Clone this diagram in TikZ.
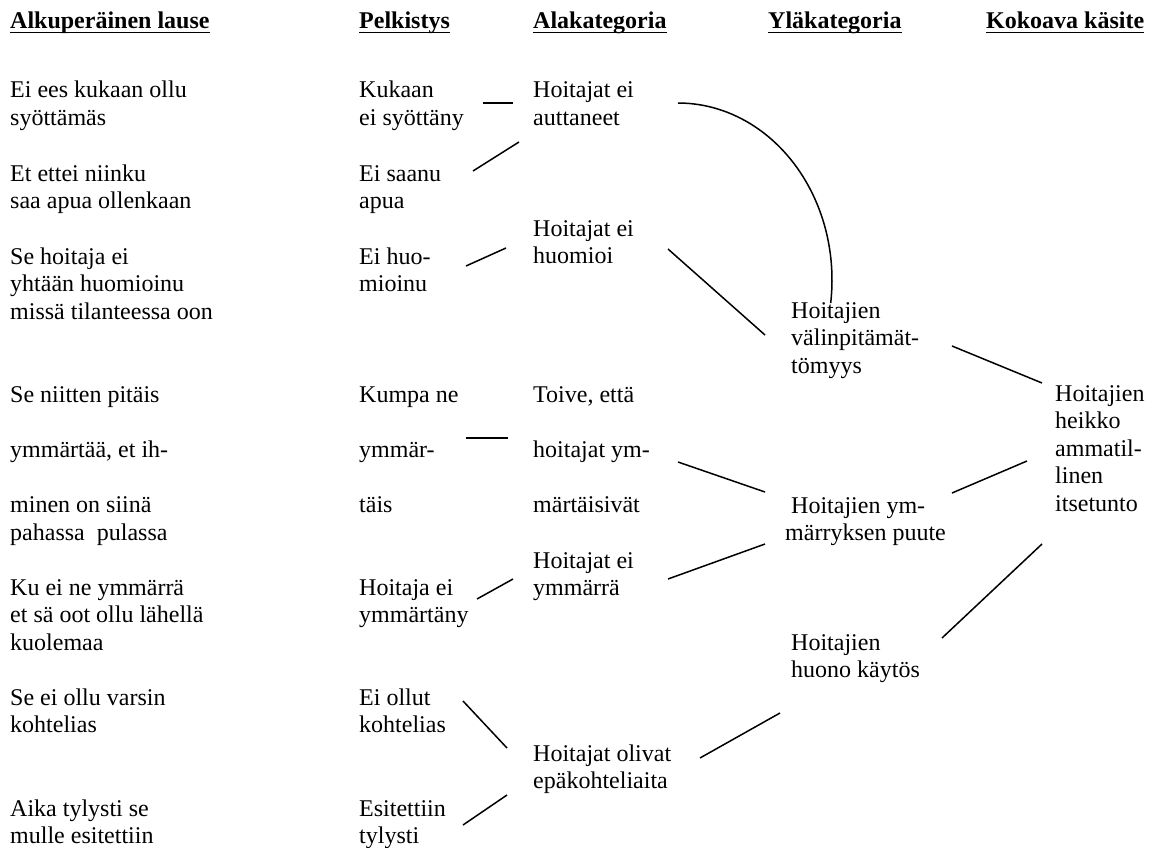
\documentclass[tikz,border=0pt]{standalone}
\usepackage{fontspec}
\setmainfont{Liberation Serif}
\newcommand\mlines[1]{\begin{tabular}[t]{@{}l@{}}#1\end{tabular}}
\begin{document}
\begin{tikzpicture}[x=1pt,y=-1pt,
  txt/.style={anchor=base west, inner sep=0pt, font=\fontsize{24}{27.6}\selectfont},
  hdr/.style={txt, font=\fontsize{24}{27.6}\selectfont\bfseries},
  uline/.style={line width=1.8pt},
  conn/.style={line width=1.5pt}]
\path[use as bounding box] (0,0) rectangle (1156,848);
% headers
\node[hdr] (h1) at (10,29) {Alkuperäinen lause};
\node[hdr] (h2) at (359,29) {Pelkistys};
\node[hdr] (h3) at (533,29) {Alakategoria};
\node[hdr] (h4) at (768,29) {Yläkategoria};
\node[hdr] (h5) at (986,29) {Kokoava käsite};
\foreach \h in {h1,h2,h3,h4,h5}
  \draw[uline] ([yshift=-3.5pt]\h.base west) -- ([yshift=-3.5pt]\h.base east);
% column 1
\node[txt] (a1) at (10,98) {\mlines{Ei ees kukaan ollu\\syöttämäs}};
\node[txt] (a2) at (10,181) {\mlines{Et ettei niinku\\saa apua ollenkaan}};
\node[txt] (a3) at (10,264) {\mlines{Se hoitaja ei\\yhtään huomioinu\\missä tilanteessa oon}};
\node[txt] (a4) at (10,402) {\mlines{Se niitten pitäis\\[27.6pt]ymmärtää, et ih-\\[27.6pt]minen on siinä\\pahassa\ \ pulassa}};
\node[txt] (a5) at (10,595) {\mlines{Ku ei ne ymmärrä\\et sä oot ollu lähellä\\kuolemaa}};
\node[txt] (a6) at (10,705) {\mlines{Se ei ollu varsin\\kohtelias}};
\node[txt] (a7) at (10,816) {\mlines{Aika tylysti se\\mulle esitettiin}};
% column 2
\node[txt] (b1) at (359,98) {\mlines{Kukaan\\ei syöttäny}};
\node[txt] (b2) at (359,181) {\mlines{Ei saanu\\apua}};
\node[txt] (b3) at (359,264) {\mlines{Ei huo-\\mioinu}};
\node[txt] (b4) at (359,402) {\mlines{Kumpa ne\\[27.6pt]ymmär-\\[27.6pt]täis}};
\node[txt] (b5) at (359,595) {\mlines{Hoitaja ei\\ymmärtäny}};
\node[txt] (b6) at (359,705) {\mlines{Ei ollut\\kohtelias}};
\node[txt] (b7) at (359,816) {\mlines{Esitettiin\\tylysti}};
% column 3
\node[txt] (c1) at (533,98) {\mlines{Hoitajat ei\\auttaneet}};
\node[txt] (c2) at (533,236) {\mlines{Hoitajat ei\\huomioi}};
\node[txt] (c3) at (533,402) {\mlines{Toive, että\\[27.6pt]hoitajat ym-\\[27.6pt]märtäisivät}};
\node[txt] (c4) at (533,568) {\mlines{Hoitajat ei\\ymmärrä}};
\node[txt] (c5) at (533,761) {\mlines{Hoitajat olivat\\epäkohteliaita}};
% column 4
\node[txt] (d1) at (791,318) {\mlines{Hoitajien\\välinpitämät-\\tömyys}};
\node[txt] (d2) at (785,513) {\mlines{\hspace{6pt}Hoitajien ym-\\märryksen puute}};
\node[txt] (d3) at (791,650) {\mlines{Hoitajien\\huono käytös}};
% column 5
\node[txt] (e1) at (1055,401) {\mlines{Hoitajien\\heikko\\ammatil-\\linen\\itsetunto}};
% connector end points
\coordinate (b1r) at (483,103); \coordinate (c1l) at (513,103);
\coordinate (b2r) at (473,171); \coordinate (c1b) at (519,142);
\coordinate (b3r) at (466,266); \coordinate (c2l) at (506,248);
\coordinate (b4r) at (466,438); \coordinate (c3l) at (508,438);
\coordinate (b5r) at (477,599); \coordinate (c4l) at (513,579);
\coordinate (b6r) at (463,701); \coordinate (c5a) at (507,748);
\coordinate (b7r) at (463,825); \coordinate (c5b) at (507,795);
\coordinate (c1r) at (678,103);
\coordinate (c2r) at (668,249); \coordinate (d1l) at (765,335);
\coordinate (c3r) at (678,462); \coordinate (d2a) at (765,492);
\coordinate (c4r) at (668,579); \coordinate (d2b) at (765,544);
\coordinate (c5r) at (700,758); \coordinate (d3l) at (780,713);
\coordinate (d1r) at (952,346); \coordinate (e1a) at (1042,383);
\coordinate (d2r) at (952,493); \coordinate (e1b) at (1027,461);
\coordinate (d3r) at (942,638); \coordinate (e1c) at (1042,544);
% connectors
\draw[conn] (b1r) -- (c1l);
\draw[conn] (b2r) -- (c1b);
\draw[conn] (b3r) -- (c2l);
\draw[conn] (b4r) -- (c3l);
\draw[conn] (b5r) -- (c4l);
\draw[conn] (b6r) -- (c5a);
\draw[conn] (b7r) -- (c5b);
\draw[conn] (c1r) arc[start angle=90, end angle=-7.5, x radius=154pt, y radius=177pt];
\draw[conn] (c2r) -- (d1l);
\draw[conn] (c3r) -- (d2a);
\draw[conn] (c4r) -- (d2b);
\draw[conn] (c5r) -- (d3l);
\draw[conn] (d1r) -- (e1a);
\draw[conn] (d2r) -- (e1b);
\draw[conn] (d3r) -- (e1c);
\end{tikzpicture}
\end{document}
